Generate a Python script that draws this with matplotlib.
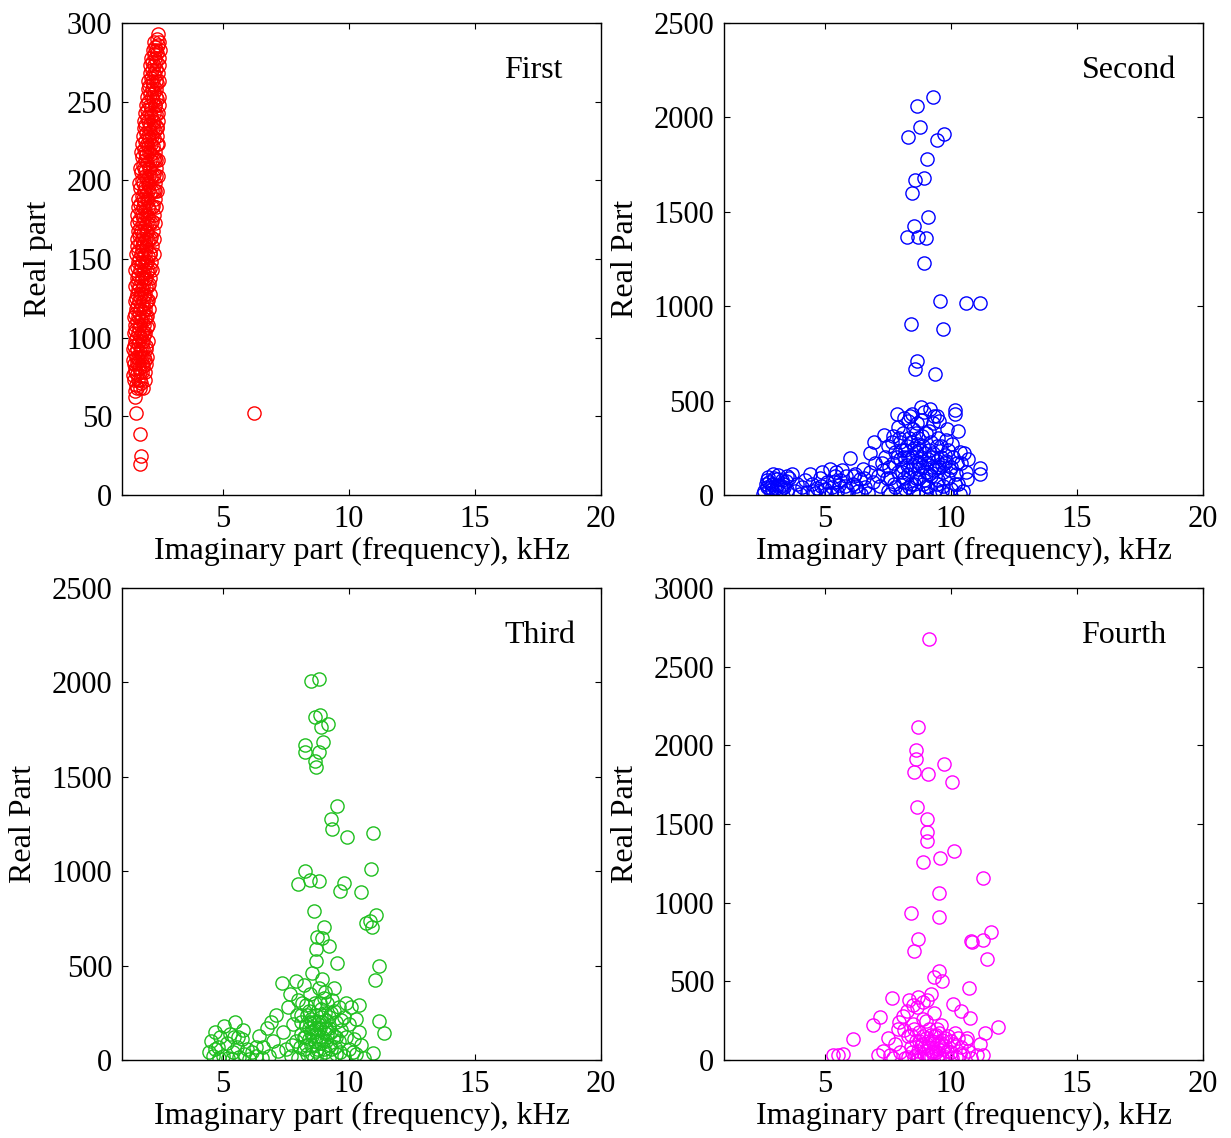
import matplotlib.pyplot as plt

plt.rcParams['font.family'] = ['Liberation Serif', 'DejaVu Serif']
plt.rcParams['font.size'] = 23

# (imaginary part kHz, real part)
first_pts = [
    (1.5, 66), (1.7, 68), (1.55, 70), (1.75, 71), (1.62, 73),
    (1.45, 76), (1.6, 77), (1.8, 78), (1.5, 80), (1.68, 81), (1.85, 82), (1.58, 84),
    (1.45, 86), (1.62, 87), (1.78, 88), (1.9, 86), (1.52, 90), (1.7, 91), (1.85, 93),
    (1.48, 95), (1.64, 96), (1.8, 97), (1.95, 95), (1.55, 100), (1.72, 101), (1.88, 102),
    (1.5, 105), (1.66, 106), (1.82, 104), (1.98, 107), (1.58, 110), (1.75, 111), (1.9, 112),
    (1.52, 115), (1.68, 116), (1.85, 117), (2.0, 114), (1.6, 120), (1.78, 121), (1.94, 122),
    (1.55, 125), (1.72, 126), (1.88, 127), (2.04, 124), (1.62, 130), (1.8, 131), (1.97, 132),
    (1.58, 135), (1.74, 136), (1.9, 137), (2.06, 134), (1.65, 140), (1.82, 141), (1.98, 142),
    (1.52, 143), (1.6, 145), (1.76, 146), (1.92, 147), (2.1, 144), (1.68, 150), (1.85, 151),
    (2.02, 152), (1.55, 153), (1.63, 155), (1.8, 156), (1.96, 157), (2.12, 154), (1.7, 160),
    (1.87, 161), (2.04, 162), (1.58, 163), (1.66, 165), (1.82, 166), (1.99, 167), (2.15, 164),
    (1.72, 170), (1.9, 171), (2.06, 172), (1.6, 173), (1.68, 175), (1.85, 176), (2.02, 177),
    (2.18, 174), (1.75, 180), (1.92, 181), (2.09, 182), (1.63, 183), (1.7, 185), (1.88, 186),
    (2.05, 187), (2.22, 184), (1.78, 190), (1.95, 191), (2.12, 192), (2.3, 193), (1.73, 195),
    (1.9, 196), (2.08, 197), (2.25, 194), (1.8, 200), (1.98, 201), (2.15, 202), (2.35, 203),
    (1.76, 205), (1.93, 206), (2.1, 207), (2.28, 204), (1.84, 210), (2.0, 211), (2.18, 212),
    (2.36, 213), (1.8, 215), (1.97, 216), (2.14, 217), (2.3, 214), (1.88, 220), (2.05, 221),
    (2.22, 222), (2.38, 223), (1.9, 225), (2.08, 226), (2.25, 227), (1.95, 230), (2.12, 231),
    (2.3, 232), (1.92, 235), (2.1, 236), (2.27, 237), (2.4, 234), (2.0, 240), (2.16, 241),
    (2.33, 242), (1.98, 245), (2.14, 246), (2.3, 247), (2.05, 250), (2.22, 251), (2.38, 252),
    (2.1, 255), (2.26, 256), (2.08, 260), (2.24, 261), (2.38, 262), (2.15, 265), (2.3, 266),
    (2.18, 270), (2.34, 271), (2.2, 275), (2.36, 276), (2.25, 280), (2.4, 281), (2.3, 285),
    (2.42, 286), (2.38, 290), (2.42, 293),
    (1.58, 68), (1.82, 68), (1.48, 73), (1.7, 73), (1.9, 73), (1.52, 78), (1.72, 78),
    (1.92, 78), (1.47, 83), (1.66, 83), (1.8, 83), (1.97, 83), (1.55, 88), (1.7, 88),
    (1.86, 88), (2.0, 88), (1.45, 93), (1.6, 93), (1.77, 93), (1.95, 93), (1.5, 98),
    (1.68, 98), (1.85, 98), (2.02, 98), (1.46, 103), (1.62, 103), (1.78, 103), (1.93, 103),
    (1.53, 108), (1.7, 108), (1.87, 108), (2.05, 108), (1.48, 113), (1.63, 113), (1.8, 113),
    (1.96, 113), (1.55, 118), (1.72, 118), (1.9, 118), (2.07, 118), (1.5, 123), (1.66, 123),
    (1.83, 123), (2.0, 123), (1.58, 128), (1.75, 128), (1.93, 128), (2.1, 128), (1.52, 133),
    (1.68, 133), (1.85, 133), (2.02, 133), (1.6, 138), (1.78, 138), (1.95, 138), (2.13, 138),
    (1.7, 143), (1.88, 143), (2.05, 143), (2.2, 143), (1.62, 148), (1.8, 148), (1.98, 148),
    (2.16, 148), (1.75, 153), (1.93, 153), (2.1, 153), (2.25, 153), (1.6, 158), (1.78, 158),
    (1.95, 158), (2.18, 158), (1.8, 163), (1.97, 163), (2.12, 163), (2.28, 163), (1.62, 168),
    (1.76, 168), (1.94, 168), (2.24, 168), (1.82, 173), (2.0, 173), (2.16, 173), (2.32, 173),
    (1.6, 178), (1.8, 178), (1.97, 178), (2.26, 178), (1.84, 183), (2.02, 183), (2.2, 183),
    (2.36, 183), (1.65, 188), (1.82, 188), (2.0, 188), (2.3, 188), (1.86, 193), (2.05, 193),
    (2.2, 193), (2.38, 193), (1.68, 198), (1.85, 198), (2.03, 198), (2.32, 198), (1.9, 203),
    (2.07, 203), (2.24, 203), (2.42, 203), (1.7, 208), (1.88, 208), (2.06, 208), (2.34, 208),
    (1.92, 213), (2.1, 213), (2.26, 213), (2.44, 213), (1.74, 218), (1.92, 218), (2.08, 218),
    (2.32, 218), (1.8, 223), (1.98, 223), (2.16, 223), (2.42, 223), (1.84, 228), (2.02, 228),
    (2.18, 228), (2.38, 228), (1.88, 233), (2.06, 233), (2.22, 233), (2.4, 233), (1.86, 238),
    (2.04, 238), (2.24, 238), (2.44, 238), (1.92, 243), (2.1, 243), (2.27, 243), (2.42, 243),
    (1.95, 248), (2.12, 248), (2.3, 248), (2.46, 248), (2.0, 253), (2.18, 253), (2.33, 253),
    (2.45, 253), (2.02, 258), (2.2, 258), (2.35, 258), (2.05, 263), (2.2, 263), (2.36, 263),
    (2.48, 263), (2.1, 268), (2.26, 268), (2.42, 268), (2.12, 273), (2.28, 273), (2.45, 273),
    (2.15, 278), (2.3, 278), (2.48, 278), (2.22, 283), (2.36, 283), (2.5, 283), (2.28, 288),
    (2.45, 288),
    (1.52, 62), (1.55, 52), (1.71, 39), (1.75, 25), (1.7, 20), (6.24, 52),
]

second_pts = [
    (9.28, 2107), (8.66, 2060), (8.77, 1951), (8.29, 1895), (9.71, 1912), (9.45, 1880),
    (9.05, 1780), (8.58, 1669), (8.95, 1677), (8.45, 1598), (9.09, 1473), (8.55, 1425),
    (8.27, 1365), (8.71, 1368), (9.01, 1361), (8.95, 1231), (9.57, 1029), (10.6, 1018),
    (11.14, 1018), (8.41, 906), (9.7, 877), (8.67, 710), (8.58, 669), (9.38, 643),
    (7.87, 427), (8.39, 420), (8.83, 468), (9.19, 455), (9.47, 418), (10.15, 450),
    (10.15, 427), (10.28, 339), (10.53, 224), (11.14, 143), (11.14, 112), (10.63, 83),
    (6.0, 198),
    (2.6, 20), (2.7, 45), (2.8, 70), (2.9, 30), (3.0, 90), (3.1, 55), (3.2, 15), (3.3, 80),
    (3.4, 40), (3.5, 100), (2.75, 95), (2.95, 110), (3.15, 105), (3.35, 60), (3.5, 25),
    (2.65, 60), (2.85, 10), (3.05, 35), (3.25, 50), (3.45, 75), (2.55, 5), (3.6, 90),
    (3.7, 110), (2.7, 80), (3.1, 85), (2.9, 60), (3.25, 30), (2.8, 35),
    (3.8, 20), (4.0, 5), (4.1, 40), (4.3, 15), (4.5, 60), (4.6, 10), (4.8, 90), (4.9, 120),
    (5.0, 30), (5.1, 70), (5.2, 140), (5.3, 45), (5.4, 100), (5.5, 15), (5.6, 80),
    (5.7, 130), (5.8, 50), (5.9, 25), (6.1, 60), (6.2, 110), (6.3, 20), (6.4, 85),
    (6.5, 140), (6.6, 40), (6.7, 10), (6.8, 120), (6.9, 70), (7.0, 170), (4.4, 110),
    (4.7, 35), (5.05, 5), (5.45, 120), (5.75, 10), (6.15, 100), (6.45, 5), (3.9, 60),
    (4.2, 80), (5.25, 10), (5.55, 55), (6.55, 90), (6.25, 50), (5.85, 100), (5.35, 70),
    (4.85, 50), (4.55, 20),
    (7.2, 50), (7.3, 130), (7.4, 200), (7.5, 20), (7.5, 260), (7.6, 90), (7.7, 170),
    (7.7, 310), (7.8, 40), (7.8, 230), (7.9, 120), (7.9, 360), (8.0, 10), (8.0, 190),
    (8.0, 280), (8.1, 70), (8.1, 150), (8.1, 330), (8.2, 240), (8.2, 30), (8.3, 110),
    (8.3, 200), (8.3, 390), (8.4, 60), (8.4, 280), (8.5, 160), (8.5, 10), (8.5, 350),
    (8.6, 230), (8.6, 90), (8.7, 300), (8.7, 140), (8.7, 20), (8.8, 200), (8.8, 400),
    (8.9, 60), (8.9, 260), (9.0, 120), (9.0, 330), (9.0, 10), (9.1, 190), (9.1, 40),
    (9.2, 280), (9.2, 100), (9.3, 380), (9.3, 220), (9.4, 150), (9.4, 30), (9.5, 300),
    (9.5, 80), (9.6, 200), (9.6, 260), (9.7, 120), (9.7, 50), (9.8, 290), (9.8, 180),
    (9.9, 90), (9.9, 240), (10.0, 150), (10.0, 30), (10.1, 200), (10.2, 110), (10.3, 60),
    (10.4, 170), (10.5, 20), (10.6, 120), (7.35, 320), (7.65, 280), (8.15, 410),
    (8.45, 430), (8.65, 380), (8.95, 440), (9.35, 420), (9.55, 390), (7.1, 100), (7.6, 5),
    (8.25, 160), (8.55, 250), (8.85, 150), (9.15, 240), (9.45, 180), (9.75, 210),
    (10.05, 270), (8.05, 240), (8.35, 300), (8.75, 240), (9.05, 170), (8.15, 200),
    (8.45, 200), (8.65, 180), (8.95, 220), (9.25, 150), (9.65, 160), (7.95, 300),
    (8.6, 330), (9.15, 340), (9.85, 350), (10.35, 230), (10.7, 190), (6.8, 220),
    (6.95, 280), (9.85, 5), (10.35, 5), (8.75, 90), (9.45, 60),
    (7.55, 150), (7.75, 60), (7.85, 200), (8.05, 120), (8.15, 90), (8.25, 260), (8.35, 40),
    (8.45, 140), (8.55, 60), (8.65, 270), (8.75, 170), (8.85, 310), (8.95, 80), (9.05, 50),
    (9.15, 110), (9.25, 200), (9.35, 130), (9.45, 260), (9.55, 150), (9.65, 20),
    (9.75, 170), (9.95, 130), (10.15, 60), (10.25, 170), (7.45, 90), (7.25, 170),
]

third_pts = [
    (8.5, 2009), (8.83, 2018), (8.66, 1819), (8.85, 1827), (8.88, 1766), (9.16, 1780),
    (8.27, 1669), (8.25, 1630), (8.99, 1683), (8.83, 1633), (8.64, 1586), (8.7, 1550),
    (9.54, 1345), (9.28, 1275), (9.34, 1222), (9.92, 1183), (10.94, 1204), (8.26, 1003),
    (7.98, 932), (8.46, 953), (8.83, 950), (9.82, 936), (9.66, 897), (10.47, 890),
    (10.88, 1010), (11.09, 770), (10.68, 727), (10.92, 703), (10.85, 737), (8.62, 791),
    (9.0, 706), (8.72, 650), (8.93, 645), (9.21, 606), (8.68, 586), (8.68, 526),
    (9.54, 512), (11.21, 498), (11.05, 424), (7.35, 406), (11.18, 208), (11.39, 141),
    (10.94, 35),
    (4.45, 40), (4.55, 100), (4.7, 150), (4.8, 70), (4.9, 120), (5.0, 20), (5.05, 180),
    (5.15, 90), (5.2, 10), (5.3, 140), (5.4, 40), (5.5, 200), (5.55, 70), (5.65, 15),
    (5.75, 110), (5.85, 30), (5.95, 60), (6.05, 5), (6.15, 40), (4.6, 20), (5.35, 5),
    (5.8, 160), (4.85, 10), (5.45, 120), (6.3, 20), (6.45, 130), (6.6, 70), (6.75, 170),
    (6.85, 20), (7.0, 100), (7.1, 240), (7.2, 50), (6.9, 200), (6.55, 10),
    (6.3, 70), (5.6, 120), (4.7, 60),
    (7.4, 150), (7.5, 60), (7.6, 280), (7.7, 20), (7.8, 190), (7.9, 100), (8.0, 320),
    (8.0, 10), (8.1, 240), (8.1, 140), (8.2, 60), (8.2, 400), (8.3, 180), (8.3, 290),
    (8.35, 30), (8.4, 110), (8.45, 350), (8.5, 220), (8.5, 80), (8.55, 460), (8.6, 160),
    (8.6, 10), (8.65, 300), (8.7, 50), (8.7, 240), (8.75, 130), (8.8, 380), (8.8, 200),
    (8.85, 20), (8.9, 90), (8.9, 270), (8.95, 430), (9.0, 150), (9.0, 330), (9.05, 40),
    (9.1, 210), (9.1, 100), (9.15, 300), (9.2, 170), (9.2, 10), (9.3, 250), (9.3, 60),
    (9.4, 130), (9.4, 380), (9.5, 200), (9.5, 30), (9.6, 280), (9.6, 100), (9.7, 160),
    (9.8, 230), (9.8, 20), (9.9, 120), (10.0, 60), (10.0, 190), (10.1, 280), (10.2, 110),
    (10.3, 30), (10.3, 220), (10.4, 150), (10.5, 80), (8.25, 120), (8.45, 200),
    (8.65, 100), (8.85, 170), (9.05, 250), (9.25, 80), (8.15, 300), (8.55, 130),
    (8.75, 60), (8.95, 200), (9.15, 140), (9.35, 320), (7.9, 420), (8.35, 240),
    (8.95, 120), (7.65, 350), (9.45, 70), (9.65, 40), (10.6, 10), (10.4, 290),
    (8.05, 70), (8.4, 170),
    (8.1, 200), (8.2, 120), (8.3, 80), (8.4, 260), (8.5, 150), (8.6, 200), (8.7, 170),
    (8.8, 100), (8.9, 230), (9.0, 60), (9.1, 170), (9.2, 230), (9.3, 150), (9.4, 260),
    (9.5, 120), (8.55, 30), (8.85, 300), (9.05, 360), (7.95, 240), (7.75, 80), (9.7, 210),
    (9.9, 300), (10.15, 40),
]

fourth_pts = [
    (9.14, 2676), (8.7, 2114), (8.63, 1970), (8.62, 1911), (8.55, 1833), (9.1, 1818),
    (9.71, 1879), (10.06, 1769), (8.66, 1608), (9.07, 1530), (9.04, 1447), (9.06, 1395),
    (8.91, 1260), (9.57, 1286), (10.14, 1330), (11.29, 1157), (9.54, 1063), (8.43, 932),
    (9.53, 909), (8.71, 771), (8.55, 693), (10.79, 758), (10.85, 752), (11.26, 763),
    (11.59, 815), (11.45, 640), (9.52, 566), (9.33, 530), (9.66, 502), (10.72, 456),
    (11.88, 208), (11.35, 170), (6.13, 133), (5.53, 32), (5.33, 32), (5.73, 38),
    (7.12, 32), (7.19, 272), (6.93, 225), (7.65, 396), (10.1, 355), (10.39, 309),
    (10.76, 267), (11.16, 104), (11.26, 32), (11.02, 32),
    (7.3, 60), (7.5, 140), (7.6, 30), (7.8, 100), (7.9, 200), (8.0, 50), (8.1, 280),
    (8.2, 10), (8.3, 150), (8.35, 380), (8.4, 80), (8.5, 230), (8.55, 20), (8.6, 120),
    (8.65, 340), (8.7, 60), (8.75, 180), (8.8, 10), (8.85, 100), (8.9, 260), (8.95, 40),
    (9.0, 140), (9.05, 380), (9.1, 80), (9.15, 200), (9.2, 20), (9.25, 120), (9.3, 60),
    (9.35, 300), (9.4, 160), (9.45, 10), (9.5, 100), (9.55, 40), (9.6, 220), (9.65, 130),
    (9.7, 70), (9.8, 20), (9.9, 150), (10.0, 50), (10.1, 100), (10.2, 20), (10.3, 140),
    (10.4, 80), (10.5, 30), (10.6, 120), (10.7, 60), (10.8, 10), (8.45, 50), (8.65, 0),
    (8.9, 150), (9.1, 30), (9.3, 110), (9.55, 170), (9.75, 90), (10.05, 10), (8.25, 310),
    (8.5, 350), (8.7, 400), (8.9, 370), (9.2, 420), (7.95, 240), (8.15, 190), (7.7, 10),
    (9.0, 250), (9.4, 50), (8.8, 90), (9.6, 110), (9.2, 160), (10.65, 140),
    (8.6, 30), (8.75, 120), (8.95, 80), (9.05, 30), (9.15, 110), (9.25, 50), (9.35, 150),
    (9.5, 70), (9.65, 10), (9.85, 60), (10.0, 120), (8.4, 160), (8.55, 200), (9.75, 140),
    (10.35, 40), (8.3, 20), (9.45, 200), (10.15, 170),
]

panels = [
    (first_pts, 'red', 'Real part', 'First', 300, [0, 50, 100, 150, 200, 250, 300]),
    (second_pts, 'blue', 'Real Part', 'Second', 2500, [0, 500, 1000, 1500, 2000, 2500]),
    (third_pts, '#1fbf1f', 'Real Part', 'Third', 2500, [0, 500, 1000, 1500, 2000, 2500]),
    (fourth_pts, 'magenta', 'Real Part', 'Fourth', 3000, [0, 500, 1000, 1500, 2000, 2500, 3000]),
]
label_pos = [(0.858, 0.9), (0.846, 0.9), (0.873, 0.9), (0.835, 0.9)]
axes_rect = [
    [0.0991, 0.565, 0.3891, 0.4148],
    [0.5881, 0.565, 0.3891, 0.4148],
    [0.0991, 0.0685, 0.3891, 0.4148],
    [0.5881, 0.0685, 0.3891, 0.4148],
]

fig = plt.figure(figsize=(12.31, 11.38), dpi=100)
for (pts, color, ylab, name, ymax, yticks), rect, lp in zip(panels, axes_rect, label_pos):
    ax = fig.add_axes(rect)
    xs = [p[0] for p in pts]
    ys = [p[1] for p in pts]
    ax.plot(xs, ys, 'o', mfc='none', mec=color, ms=9.5, mew=1.0)
    ax.set_xlim(1, 20)
    ax.set_ylim(0, ymax)
    ax.set_xticks([5, 10, 15, 20])
    ax.set_yticks(yticks)
    ax.tick_params(direction='in', top=True, right=True, length=4, width=0.8,
                   pad=7, labelsize=22)
    for s in ax.spines.values():
        s.set_linewidth(1.0)
    ax.set_xlabel('Imaginary part (frequency), kHz', labelpad=2)
    ax.set_ylabel(ylab, labelpad=10)
    ax.text(lp[0], lp[1], name, transform=ax.transAxes, ha='center', va='center')

fig.savefig('out.png', dpi=100)
